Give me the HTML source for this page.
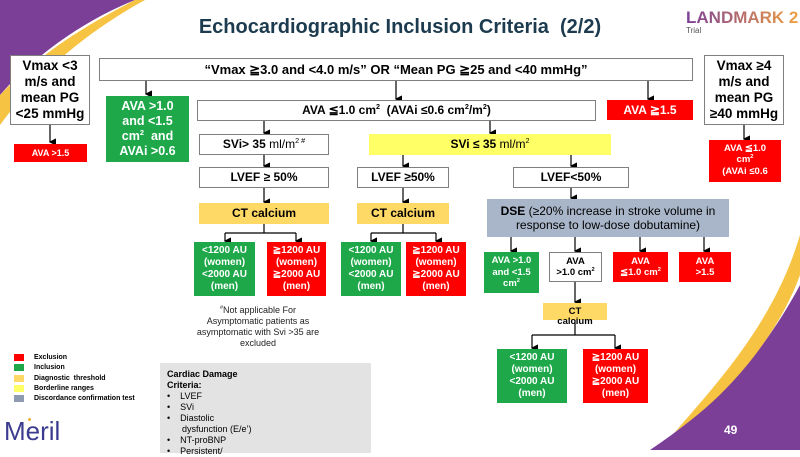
<!DOCTYPE html>
<html><head><meta charset="utf-8"><style>
body{margin:0;width:800px;height:450px;overflow:hidden;background:#fff;font-family:"Liberation Sans",Arial,sans-serif;position:relative}
.b{position:absolute;box-sizing:border-box;display:flex;align-items:center;justify-content:center;text-align:center;font-weight:bold;line-height:1.2;overflow:hidden}
.w{background:#fff;border:1.5px solid #7f7f7f;color:#000}
.g{background:#1ea84a;color:#fff}
.r{background:#f00;color:#fff}
.y{background:#ffd966;color:#000}
.yl{background:#ffff66;color:#000}
svg{position:absolute;left:0;top:0}
.t{position:absolute;white-space:nowrap}
sup{font-size:60%;line-height:0}
</style></head><body>
<svg width="800" height="450">
<path d="M0,0 L135,0 C85,20 35,55 0,95 Z" fill="#7b3f98"/>
<path d="M0,95 C35,58 80,28 135,0 L145,0 C90,30 40,70 0,125 Z" fill="#f6c343"/>
<path d="M800,285 C760,360 710,410 650,450 L800,450 Z" fill="#7b3f98"/>
<path d="M800,235 C775,320 720,380 675,432 C735,390 780,330 800,275 Z" fill="#f6c343"/>
<defs><marker id="a" markerWidth="6" markerHeight="6" refX="3" refY="5" orient="auto"><path d="M0,0 L6,0 L3,6 Z" fill="#000"/></marker></defs>
<g stroke="#000" stroke-width="1.2" fill="none">
<line x1="50" y1="125" x2="50" y2="142" marker-end="url(#a)"/>
<line x1="146" y1="80" x2="146" y2="94" marker-end="url(#a)"/>
<line x1="396" y1="80" x2="396" y2="99" marker-end="url(#a)"/>
<line x1="648" y1="80" x2="648" y2="99" marker-end="url(#a)"/>
<line x1="744" y1="125" x2="744" y2="139" marker-end="url(#a)"/>
<line x1="264" y1="120" x2="264" y2="133" marker-end="url(#a)"/>
<line x1="490" y1="120" x2="490" y2="133" marker-end="url(#a)"/>
<line x1="264" y1="155" x2="264" y2="166" marker-end="url(#a)"/>
<line x1="403" y1="155" x2="403" y2="166" marker-end="url(#a)"/>
<line x1="571" y1="155" x2="571" y2="166" marker-end="url(#a)"/>
<line x1="264" y1="188" x2="264" y2="202" marker-end="url(#a)"/>
<line x1="403" y1="188" x2="403" y2="202" marker-end="url(#a)"/>
<line x1="571" y1="188" x2="571" y2="198" marker-end="url(#a)"/>
<path d="M264,224 V233 M225,233 H296"/>
<line x1="225" y1="233" x2="225" y2="241" marker-end="url(#a)"/>
<line x1="296" y1="233" x2="296" y2="241" marker-end="url(#a)"/>
<path d="M403,224 V233 M371,233 H436"/>
<line x1="371" y1="233" x2="371" y2="241" marker-end="url(#a)"/>
<line x1="436" y1="233" x2="436" y2="241" marker-end="url(#a)"/>
<line x1="511" y1="237" x2="511" y2="251" marker-end="url(#a)"/>
<line x1="575" y1="237" x2="575" y2="251" marker-end="url(#a)"/>
<line x1="640" y1="237" x2="640" y2="251" marker-end="url(#a)"/>
<line x1="704" y1="237" x2="704" y2="251" marker-end="url(#a)"/>
<line x1="575" y1="282" x2="575" y2="302" marker-end="url(#a)"/>
<path d="M575,320 V335 M532,335 H615"/>
<line x1="532" y1="335" x2="532" y2="348" marker-end="url(#a)"/>
<line x1="615" y1="335" x2="615" y2="348" marker-end="url(#a)"/>
</g>
</svg>
<div class="t" style="left:0;width:800px;text-align:center;top:16px;font-size:20px;font-weight:bold;color:#1d3b4f">Echocardiographic Inclusion Criteria&nbsp; (2/2)</div>
<div class="t" style="left:686px;top:8px;font-size:17px;font-weight:bold;background:linear-gradient(90deg,#7b3f98,#f0a040);-webkit-background-clip:text;color:transparent">LANDMARK 2</div>
<div class="t" style="left:686px;top:26px;font-size:8px;color:#555">Trial</div>

<div class="b w" style="left:10px;top:55px;width:80px;height:70px;font-size:13.5px"><span>Vmax &lt;3<br>m/s and<br>mean PG<br>&lt;25 mmHg</span></div>
<div class="b r" style="left:14px;top:144px;width:73px;height:18px;font-size:9px;align-items:flex-start;padding-top:4px"><span>AVA &gt;1.5</span></div>
<div class="b w" style="left:99px;top:58px;width:594px;height:23px;font-size:13px"><span>“Vmax ≧3.0 and &lt;4.0 m/s” OR “Mean PG ≧25 and &lt;40 mmHg”</span></div>
<div class="b g" style="left:106px;top:96px;width:83px;height:66px;font-size:12.5px;align-items:flex-start;padding-top:3px"><span>AVA &gt;1.0<br>and &lt;1.5<br>cm<sup>2</sup>&nbsp; and<br>AVAi &gt;0.6</span></div>
<div class="b w" style="left:197px;top:100px;width:399px;height:21px;font-size:12px"><span>AVA ≦1.0 cm<sup>2</sup>&nbsp; (AVAi ≤0.6 cm<sup>2</sup>/m<sup>2</sup>)</span></div>
<div class="b r" style="left:607px;top:100px;width:86px;height:20px;font-size:12px"><span>AVA ≧1.5</span></div>
<div class="b w" style="left:704px;top:55px;width:80px;height:70px;font-size:13.5px"><span>Vmax ≥4<br>m/s and<br>mean PG<br>≥40 mmHg</span></div>
<div class="b r" style="left:709px;top:140px;width:72px;height:42px;font-size:9.5px;align-items:flex-start;padding-top:3px"><span>AVA ≦1.0<br>cm<sup>2</sup><br>(AVAi ≤0.6</span></div>

<div class="b w" style="left:199px;top:134px;width:130px;height:21px;font-size:12px"><span>SVi&gt; 35 <span style="font-weight:normal">ml/m<sup>2 #</sup></span></span></div>
<div class="b yl" style="left:369px;top:134px;width:242px;height:21px;font-size:12px"><span>SVi ≤ 35 <span style="font-weight:normal">ml/m<sup>2</sup></span></span></div>
<div class="b w" style="left:199px;top:167px;width:130px;height:21px;font-size:12px"><span>LVEF ≥ 50%</span></div>
<div class="b w" style="left:357px;top:167px;width:92px;height:21px;font-size:12px"><span>LVEF ≥50%</span></div>
<div class="b w" style="left:513px;top:167px;width:116px;height:21px;font-size:12px"><span>LVEF&lt;50%</span></div>
<div class="b y" style="left:199px;top:203px;width:130px;height:21px;font-size:12px"><span>CT calcium</span></div>
<div class="b y" style="left:357px;top:203px;width:92px;height:21px;font-size:12px"><span>CT calcium</span></div>
<div class="b" style="left:487px;top:199px;width:242px;height:38px;background:#a9b6c9;font-size:12px;font-weight:normal;color:#000;align-items:flex-start;padding-top:5px"><span><b>DSE</b> (≥20% increase in stroke volume in response to low-dose dobutamine)</span></div>

<div class="b g" style="left:194px;top:242px;width:61px;height:54px;font-size:10px"><span>&lt;1200 AU (women) &lt;2000 AU (men)</span></div>
<div class="b r" style="left:267px;top:242px;width:59px;height:54px;font-size:10px"><span>≧1200 AU (women) ≧2000 AU (men)</span></div>
<div class="b g" style="left:341px;top:242px;width:60px;height:54px;font-size:10px"><span>&lt;1200 AU (women) &lt;2000 AU (men)</span></div>
<div class="b r" style="left:406px;top:242px;width:60px;height:54px;font-size:10px"><span>≧1200 AU (women) ≧2000 AU (men)</span></div>

<div class="b g" style="left:484px;top:252px;width:55px;height:41px;font-size:9.5px"><span>AVA &gt;1.0 and &lt;1.5 cm<sup>2</sup></span></div>
<div class="b w" style="left:549px;top:252px;width:53px;height:30px;font-size:9.5px"><span>AVA<br>&gt;1.0 cm<sup>2</sup></span></div>
<div class="b r" style="left:613px;top:252px;width:55px;height:30px;font-size:9.5px"><span>AVA<br>≦1.0 cm<sup>2</sup></span></div>
<div class="b r" style="left:679px;top:252px;width:52px;height:30px;font-size:9.5px"><span>AVA<br>&gt;1.5</span></div>
<div class="b y" style="left:543px;top:303px;width:64px;height:17px;font-size:9.5px;align-items:flex-start;padding-top:3px"><span>CT</span></div>
<div class="t" style="left:543px;width:64px;text-align:center;top:316px;font-size:9.5px;font-weight:bold">calcium</div>
<div class="b g" style="left:497px;top:349px;width:70px;height:54px;font-size:10px"><span>&lt;1200 AU (women) &lt;2000 AU (men)</span></div>
<div class="b r" style="left:583px;top:349px;width:65px;height:54px;font-size:10px"><span>≧1200 AU (women) ≧2000 AU (men)</span></div>

<div class="t" style="left:193px;width:130px;text-align:center;top:305px;font-size:9px;line-height:11px;white-space:normal;color:#222"><sup>#</sup>Not applicable For Asymptomatic patients as asymptomatic with Svi &gt;35 are excluded</div>

<div style="position:absolute;left:14px;top:354px;width:10px;height:7px;background:#f00"></div>
<div style="position:absolute;left:14px;top:364px;width:10px;height:7px;background:#1ea84a"></div>
<div style="position:absolute;left:14px;top:375px;width:10px;height:7px;background:#ffd966"></div>
<div style="position:absolute;left:14px;top:385px;width:10px;height:7px;background:#ffff66"></div>
<div style="position:absolute;left:14px;top:395px;width:10px;height:7px;background:#8e9bb0"></div>
<div class="t" style="left:34px;top:353px;font-size:7px;font-weight:bold;line-height:10.3px">Exclusion<br>Inclusion<br>Diagnostic&nbsp; threshold<br>Borderline ranges<br>Discordance confirmation test</div>

<div style="position:absolute;left:160px;top:363px;width:211px;height:90px;background:#e3e3e3;font-size:9px;line-height:11px;padding:6px 0 0 7px;box-sizing:border-box">
<b>Cardiac Damage<br>Criteria:</b>
<div>•&nbsp;&nbsp;&nbsp;&nbsp;LVEF</div><div>•&nbsp;&nbsp;&nbsp;&nbsp;SVi</div><div>•&nbsp;&nbsp;&nbsp;&nbsp;Diastolic<br>&nbsp;&nbsp;&nbsp;&nbsp;&nbsp;&nbsp;dysfunction (E/e’)</div><div>•&nbsp;&nbsp;&nbsp;&nbsp;NT-proBNP</div><div>•&nbsp;&nbsp;&nbsp;&nbsp;Persistent/</div>
</div>
<div class="t" style="left:4px;top:416px;font-size:26px;color:#3b3b8f">Meril</div>
<div style="position:absolute;left:28px;top:418px;width:3px;height:3px;border-radius:50%;background:#f0b030"></div>
<div class="t" style="left:724px;top:423px;font-size:12px;font-weight:bold;color:#fff">49</div>
</body></html>
